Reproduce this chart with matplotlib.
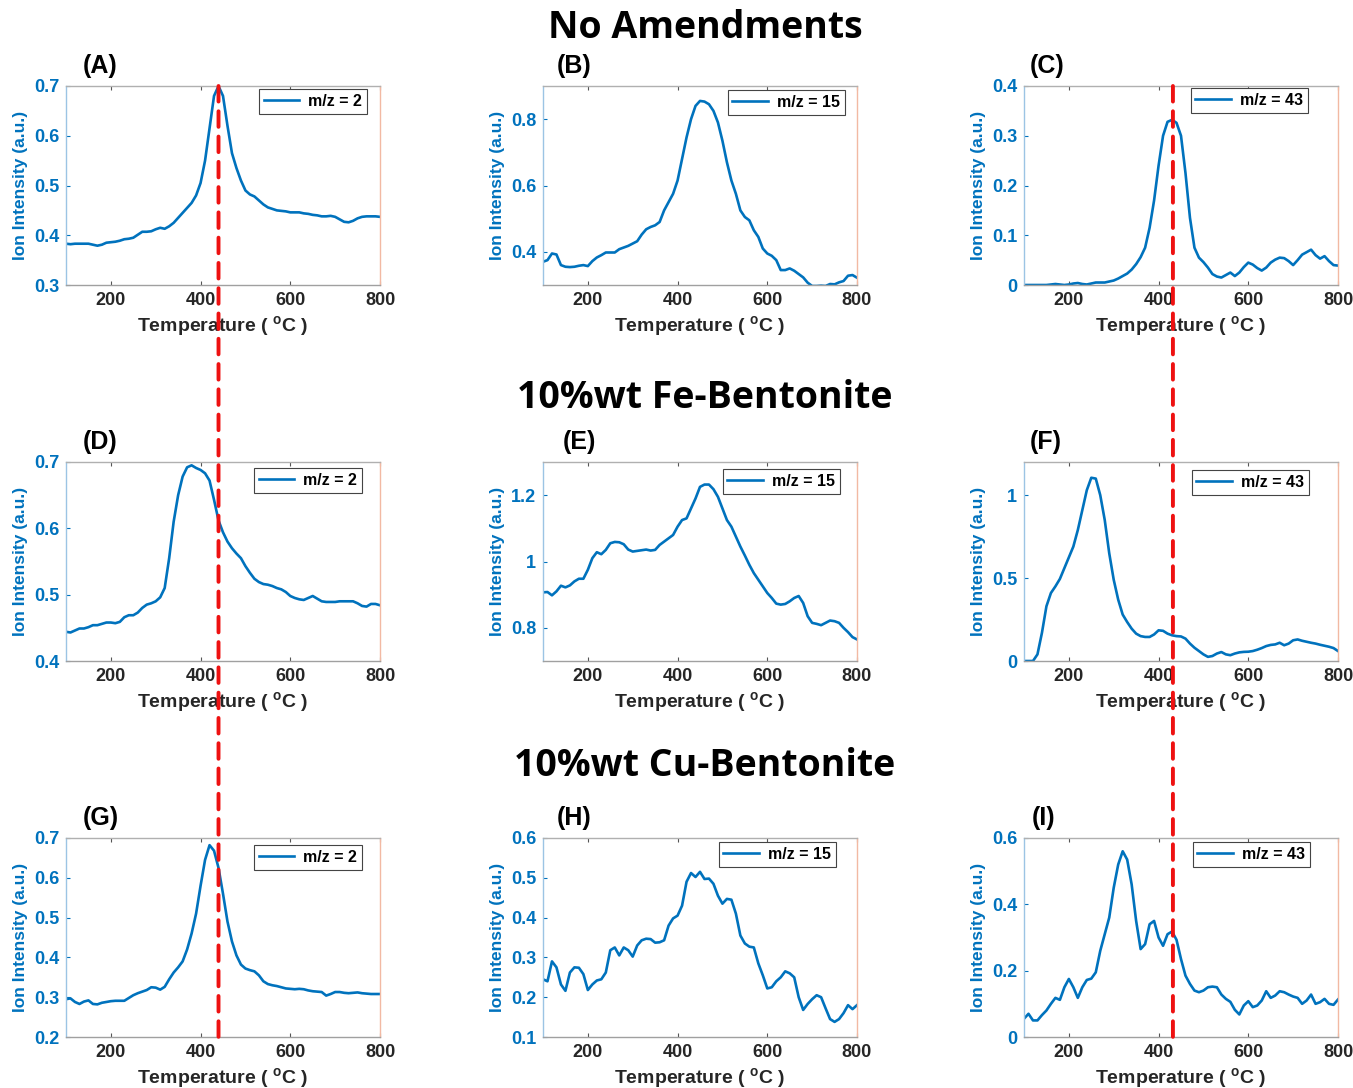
import numpy as np
import matplotlib
matplotlib.use('Agg')
import matplotlib.pyplot as plt
from matplotlib.patches import ConnectionPatch
from matplotlib.ticker import FormatStrFormatter

plt.rcParams['font.family'] = ['Liberation Sans', 'DejaVu Sans']
plt.rcParams['font.weight'] = 'bold'
plt.rcParams['mathtext.fontset'] = 'custom'
plt.rcParams['mathtext.rm'] = 'Liberation Sans:bold'
plt.rcParams['mathtext.bf'] = 'Liberation Sans:bold'
plt.rcParams['mathtext.default'] = 'bf'

# temperature grid (deg C)
temp = np.arange(100, 801, 10)

# row 1 - no amendments
a_mz2 = [0.383, 0.382, 0.383, 0.383, 0.383, 0.383, 0.381, 0.379, 0.381, 0.385,
         0.386, 0.387, 0.389, 0.392, 0.393, 0.395, 0.401, 0.407, 0.407, 0.408,
         0.412, 0.415, 0.413, 0.418, 0.425, 0.435, 0.445, 0.455, 0.465, 0.480,
         0.505, 0.550, 0.615, 0.680, 0.700, 0.680, 0.620, 0.565, 0.535, 0.510,
         0.490, 0.482, 0.478, 0.470, 0.462, 0.456, 0.453, 0.450, 0.449, 0.448,
         0.446, 0.446, 0.446, 0.444, 0.443, 0.441, 0.440, 0.438, 0.438, 0.439,
         0.437, 0.432, 0.427, 0.426, 0.429, 0.434, 0.437, 0.438, 0.438, 0.438,
         0.437]
b_mz15 = [0.370, 0.375, 0.395, 0.392, 0.360, 0.355, 0.354, 0.355, 0.358, 0.360,
          0.357, 0.372, 0.383, 0.390, 0.398, 0.398, 0.398, 0.408, 0.413, 0.418,
          0.425, 0.432, 0.452, 0.468, 0.475, 0.480, 0.490, 0.525, 0.550, 0.575,
          0.615, 0.680, 0.745, 0.800, 0.840, 0.855, 0.853, 0.845, 0.825, 0.790,
          0.735, 0.670, 0.615, 0.575, 0.525, 0.505, 0.495, 0.465, 0.445, 0.410,
          0.395, 0.388, 0.375, 0.345, 0.345, 0.350, 0.343, 0.333, 0.323, 0.307,
          0.297, 0.297, 0.298, 0.297, 0.303, 0.302, 0.308, 0.312, 0.328, 0.330,
          0.322]
c_mz43 = [0.000, 0.000, 0.000, 0.000, 0.000, 0.000, 0.001, 0.002, 0.001, 0.000,
          0.001, 0.003, 0.004, 0.002, 0.001, 0.003, 0.005, 0.005, 0.005, 0.007,
          0.009, 0.013, 0.018, 0.023, 0.031, 0.042, 0.056, 0.075, 0.115, 0.170,
          0.240, 0.300, 0.328, 0.332, 0.326, 0.300, 0.225, 0.135, 0.075, 0.055,
          0.046, 0.035, 0.022, 0.017, 0.015, 0.020, 0.025, 0.018, 0.025, 0.036,
          0.045, 0.041, 0.034, 0.029, 0.035, 0.045, 0.051, 0.055, 0.054, 0.048,
          0.040, 0.050, 0.061, 0.066, 0.071, 0.060, 0.053, 0.058, 0.048, 0.040,
          0.039]

# row 2 - 10%wt Fe-bentonite
d_mz2 = [0.444, 0.443, 0.446, 0.449, 0.449, 0.451, 0.454, 0.454, 0.456, 0.458,
         0.458, 0.457, 0.459, 0.466, 0.469, 0.469, 0.473, 0.480, 0.485, 0.487,
         0.490, 0.496, 0.510, 0.555, 0.610, 0.650, 0.678, 0.692, 0.695, 0.691,
         0.688, 0.683, 0.672, 0.643, 0.612, 0.594, 0.580, 0.570, 0.562, 0.555,
         0.543, 0.533, 0.524, 0.519, 0.516, 0.515, 0.513, 0.510, 0.508, 0.504,
         0.498, 0.495, 0.493, 0.492, 0.495, 0.498, 0.494, 0.490, 0.489, 0.489,
         0.489, 0.490, 0.490, 0.490, 0.490, 0.487, 0.483, 0.482, 0.486, 0.486,
         0.484]
e_mz15 = [0.907, 0.908, 0.898, 0.910, 0.927, 0.922, 0.928, 0.940, 0.948, 0.948,
          0.975, 1.010, 1.028, 1.022, 1.035, 1.055, 1.059, 1.058, 1.052, 1.036,
          1.030, 1.032, 1.034, 1.036, 1.033, 1.035, 1.050, 1.060, 1.070, 1.080,
          1.105, 1.125, 1.130, 1.160, 1.190, 1.225, 1.232, 1.232, 1.218, 1.195,
          1.160, 1.125, 1.105, 1.075, 1.045, 1.018, 0.990, 0.965, 0.945, 0.925,
          0.905, 0.890, 0.873, 0.870, 0.872, 0.880, 0.890, 0.896, 0.875, 0.835,
          0.815, 0.812, 0.808, 0.815, 0.822, 0.820, 0.815, 0.800, 0.787, 0.772,
          0.765]
f_mz43 = [0.000, 0.000, 0.000, 0.040, 0.170, 0.330, 0.410, 0.450, 0.495, 0.560,
          0.625, 0.690, 0.790, 0.910, 1.030, 1.105, 1.100, 1.000, 0.850, 0.650,
          0.490, 0.370, 0.280, 0.235, 0.195, 0.165, 0.150, 0.145, 0.145, 0.160,
          0.185, 0.182, 0.165, 0.155, 0.150, 0.148, 0.135, 0.105, 0.080, 0.060,
          0.040, 0.025, 0.030, 0.045, 0.054, 0.040, 0.035, 0.045, 0.052, 0.055,
          0.056, 0.060, 0.068, 0.078, 0.090, 0.097, 0.100, 0.110, 0.095, 0.105,
          0.125, 0.130, 0.122, 0.116, 0.110, 0.105, 0.098, 0.092, 0.086, 0.078,
          0.060]

# row 3 - 10%wt Cu-bentonite
g_mz2 = [0.295, 0.297, 0.288, 0.283, 0.289, 0.292, 0.283, 0.282, 0.286, 0.288,
         0.290, 0.291, 0.291, 0.291, 0.298, 0.305, 0.310, 0.314, 0.318, 0.325,
         0.324, 0.319, 0.326, 0.345, 0.362, 0.375, 0.390, 0.420, 0.460, 0.510,
         0.580, 0.645, 0.682, 0.668, 0.625, 0.560, 0.490, 0.440, 0.405, 0.382,
         0.372, 0.368, 0.365, 0.355, 0.340, 0.333, 0.330, 0.328, 0.325, 0.322,
         0.321, 0.320, 0.321, 0.320, 0.317, 0.315, 0.314, 0.313, 0.304, 0.308,
         0.313, 0.313, 0.311, 0.310, 0.311, 0.312, 0.310, 0.309, 0.308, 0.308,
         0.308]
h_mz15 = [0.245, 0.240, 0.290, 0.275, 0.232, 0.216, 0.262, 0.275, 0.274, 0.258,
          0.218, 0.232, 0.242, 0.245, 0.262, 0.318, 0.325, 0.305, 0.325, 0.318,
          0.302, 0.330, 0.343, 0.347, 0.346, 0.337, 0.338, 0.343, 0.380, 0.398,
          0.405, 0.430, 0.490, 0.512, 0.502, 0.515, 0.497, 0.498, 0.485, 0.455,
          0.435, 0.447, 0.445, 0.410, 0.355, 0.335, 0.327, 0.325, 0.285, 0.255,
          0.222, 0.225, 0.240, 0.250, 0.265, 0.260, 0.250, 0.200, 0.168, 0.183,
          0.195, 0.205, 0.200, 0.172, 0.145, 0.138, 0.145, 0.160, 0.180, 0.170,
          0.180]
i_mz43 = [0.055, 0.070, 0.050, 0.050, 0.066, 0.080, 0.100, 0.118, 0.112, 0.150,
          0.175, 0.150, 0.118, 0.150, 0.172, 0.176, 0.195, 0.260, 0.310, 0.360,
          0.450, 0.520, 0.560, 0.535, 0.460, 0.350, 0.265, 0.280, 0.340, 0.350,
          0.300, 0.275, 0.310, 0.318, 0.293, 0.235, 0.185, 0.160, 0.140, 0.135,
          0.140, 0.150, 0.152, 0.150, 0.128, 0.115, 0.106, 0.082, 0.068, 0.095,
          0.108, 0.090, 0.095, 0.110, 0.138, 0.118, 0.125, 0.138, 0.135, 0.128,
          0.122, 0.118, 0.100, 0.110, 0.128, 0.100, 0.105, 0.115, 0.100, 0.097,
          0.113]

series = [a_mz2, b_mz15, c_mz43, d_mz2, e_mz15, f_mz43, g_mz2, h_mz15, i_mz43]
panel_labels = ['(A)', '(B)', '(C)', '(D)', '(E)', '(F)', '(G)', '(H)', '(I)']
legend_labels = ['m/z = 2', 'm/z = 15', 'm/z = 43'] * 3
row_titles = ['No Amendments', '10%wt Fe-Bentonite', '10%wt Cu-Bentonite']
ylims = [(0.3, 0.7), (0.3, 0.9), (0, 0.4),
         (0.4, 0.7), (0.7, 1.3), (0, 1.2),
         (0.2, 0.7), (0.1, 0.6), (0, 0.6)]
yticks = [[0.3, 0.4, 0.5, 0.6, 0.7], [0.4, 0.6, 0.8], [0, 0.1, 0.2, 0.3, 0.4],
          [0.4, 0.5, 0.6, 0.7], [0.8, 1, 1.2], [0, 0.5, 1],
          [0.2, 0.3, 0.4, 0.5, 0.6, 0.7], [0.1, 0.2, 0.3, 0.4, 0.5, 0.6],
          [0, 0.2, 0.4, 0.6]]
xticks = [200, 400, 600, 800]
dash_x = [440, 432]  # red markers, column 1 and column 3

W, H = 1353, 1088
blue = '#0072BD'
dark = '#262626'

fig = plt.figure(figsize=(W / 100, H / 100), dpi=100)

col_left = [66, 543, 1024]
row_top = [86, 462, 838]
ax_w, ax_h = 314, 199
label_dx = [17, 14, 6, 17, 20, 6, 17, 14, 8]
leg_dx = [13, 12, 30, 18, 17, 29, 18, 21, 28]
leg_dy = [3, 4, 2, 6, 7, 8, 7, 4, 4]

axes = []
for k in range(9):
    r, c = divmod(k, 3)
    l, t = col_left[c], row_top[r]
    ax = fig.add_axes([l / W, 1 - (t + ax_h) / H, ax_w / W, ax_h / H])
    ax.plot(temp, series[k], color=blue, lw=1.9, label=legend_labels[k])
    ax.set_xlim(100, 800)
    ax.set_ylim(*ylims[k])
    ax.set_xticks(xticks)
    ax.set_yticks(yticks[k])
    ax.yaxis.set_major_formatter(FormatStrFormatter('%g'))
    ax.tick_params(axis='x', direction='in', length=3, top=True, colors='#555555',
                   labelcolor=dark, labelsize=13, pad=5)
    ax.tick_params(axis='y', direction='in', length=3, colors=blue,
                   labelcolor=blue, labelsize=13, pad=5)
    for lab in ax.get_xticklabels() + ax.get_yticklabels():
        lab.set_fontweight('bold')
    ax.spines['left'].set_color('#9cc4e4')
    ax.spines['right'].set_color('#f2b9a3')
    ax.spines['top'].set_color('#b0b0b0')
    ax.spines['bottom'].set_color('#a0a0a0')
    for s in ax.spines.values():
        s.set_linewidth(1.0)
    ax.set_xlabel('Temperature ( $^{o}$C )', color=dark, fontsize=14,
                  fontweight='bold', labelpad=4)
    ax.set_ylabel('Ion Intensity (a.u.)', color=blue, fontsize=12.5,
                  fontweight='bold', labelpad=4)
    ax.text(label_dx[k] / ax_w, 1 + 20 / ax_h, panel_labels[k], transform=ax.transAxes,
            fontsize=18, fontweight='bold', color='black', va='center', ha='left')
    leg = ax.legend(loc='upper right',
                    bbox_to_anchor=(1 - leg_dx[k] / ax_w, 1 - leg_dy[k] / ax_h),
                    borderaxespad=0, frameon=True, fancybox=False, framealpha=1,
                    edgecolor='#444444', prop={'weight': 'bold', 'size': 11.5},
                    handlelength=2.2, handletextpad=0.6, borderpad=0.3)
    leg.get_frame().set_linewidth(0.8)
    axes.append(ax)

for r, title in enumerate(row_titles):
    ty = [28, 398, 766][r]
    fig.text(705 / W, 1 - ty / H, title, ha='center', va='center',
             fontsize=27, fontweight='bold', family=['Open Sans', 'DejaVu Sans'])

# red dashed guide lines through the columns
for c, xv in zip([0, 2], dash_x):
    top_ax, bot_ax = axes[c], axes[c + 6]
    con = ConnectionPatch(xyA=(xv, top_ax.get_ylim()[1]), coordsA=top_ax.transData,
                          xyB=(xv, bot_ax.get_ylim()[0]), coordsB=bot_ax.transData,
                          color='#ee1111', lw=2.8, linestyle=(0, (4, 2.5)), zorder=10)
    fig.add_artist(con)

fig.savefig('out.png', dpi=100)
